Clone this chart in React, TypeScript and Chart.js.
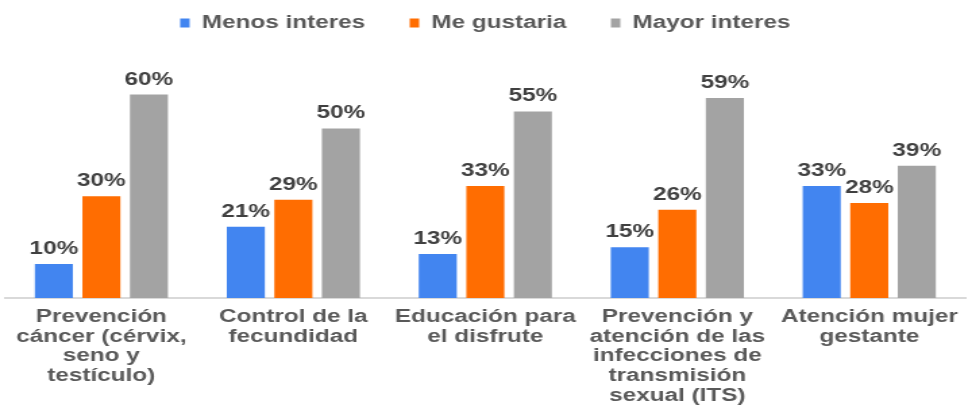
import React, { useEffect, useRef } from "react";
import { Chart, registerables } from "chart.js";

Chart.register(...registerables);

const categories: string[][] = [
  ["Prevención", "cáncer (cérvix,", "seno y", "testículo)"],
  ["Control de la", "fecundidad"],
  ["Educación para", "el disfrute"],
  ["Prevención y", "atención de las", "infecciones de", "transmisión", "sexual (ITS)"],
  ["Atención mujer", "gestante"],
];
const seriesNames = ["Menos interes", "Me gustaria", "Mayor interes"];
const menosInteres = [10, 21, 13, 15, 33];
const meGustaria = [30, 29, 33, 26, 28];
const mayorInteres = [60, 50, 55, 59, 39];
const colors = ["#4285F0", "#FF6D01", "#A3A3A3"];

const FONT = "'Liberation Sans', Arial, sans-serif";
const STRETCH = 1.35;
const W = 968;
const H = 406;
const LW = Math.round(W / STRETCH);

const valueLabels = {
  id: "valueLabels",
  afterDatasetsDraw(chart: any) {
    const ctx = chart.ctx;
    ctx.save();
    ctx.font = `bold 18px ${FONT}`;
    ctx.fillStyle = "#404040";
    ctx.textAlign = "center";
    ctx.textBaseline = "bottom";
    chart.data.datasets.forEach((ds: any, i: number) => {
      const meta = chart.getDatasetMeta(i);
      meta.data.forEach((bar: any, j: number) => {
        ctx.fillText(ds.data[j] + "%", bar.x, bar.y - 6);
      });
    });
    ctx.restore();
  },
};

export default function App() {
  const ref = useRef<HTMLCanvasElement | null>(null);
  useEffect(() => {
    if (!ref.current) return;
    const chart = new Chart(ref.current, {
      type: "bar",
      data: {
        labels: categories,
        datasets: [menosInteres, meGustaria, mayorInteres].map((d, i) => ({
          label: seriesNames[i],
          data: d,
          backgroundColor: colors[i],
          categoryPercentage: 0.743,
          barPercentage: 0.8,
        })),
      },
      options: {
        animation: false,
        responsive: false,
        maintainAspectRatio: false,
        devicePixelRatio: 1,
        layout: { padding: { left: 4, right: 2, top: -19, bottom: -1 } },
        plugins: {
          legend: {
            position: "top",
            labels: {
              boxWidth: 7,
              boxHeight: 9,
              color: "#595959",
              font: { family: FONT, size: 18, weight: "bold" },
              padding: 33,
            },
          },
          tooltip: { enabled: false },
        },
        scales: {
          x: {
            grid: { display: false },
            border: { display: true, color: "#D9D9D9", width: 2 },
            ticks: {
              color: "#595959",
              font: { family: FONT, size: 18, weight: "bold", lineHeight: 1.1 },
              maxRotation: 0,
              autoSkip: false,
              padding: 1,
            },
          },
          y: {
            display: false,
            min: 0,
            max: 75.5,
          },
        },
      },
      plugins: [valueLabels],
    });
    return () => chart.destroy();
  }, []);
  return (
    <div style={{ position: "fixed", left: 0, top: 0, width: W, height: H, background: "#fff", overflow: "hidden" }}>
      <canvas
        ref={ref}
        width={LW}
        height={H}
        style={{ width: LW, height: H, transform: `scaleX(${STRETCH})`, transformOrigin: "0 0", display: "block" }}
      />
    </div>
  );
}
